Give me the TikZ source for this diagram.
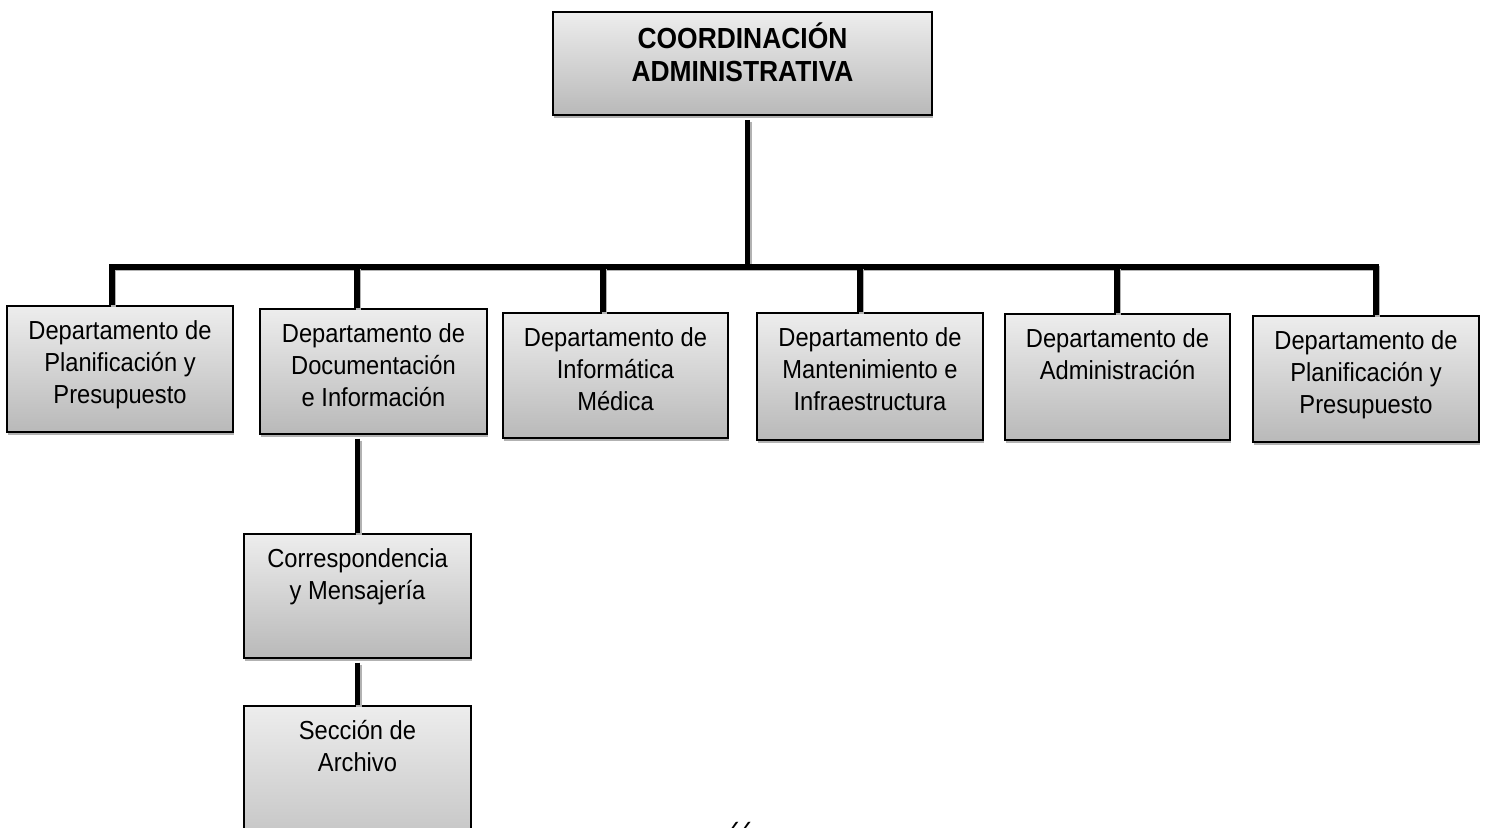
\documentclass[tikz,border=0pt]{standalone}
\usepackage{fontspec}
\setmainfont{Liberation Sans}
\newfontfamily\pagefont{Carlito}
\usetikzlibrary{shadows}
\newcommand\obox[6][]{%
  \node[box,#1,minimum width={(#5-#3)*0.5pt},minimum height={(#6-#4)*0.5pt}] (#2) at ({(#3+#5)/2},{(#4+#6)/2}) {};}
\newcommand\stx[1]{\scalebox{1}[1.1]{\begin{tabular}{@{}c@{}}#1\end{tabular}}}
\begin{document}
\begin{tikzpicture}[x=0.5pt,y=-0.5pt,
  box/.style={draw=black,line width=0.7pt,rectangle,inner sep=0pt,
    top color=gray!14,bottom color=gray!55,
    drop shadow={shadow xshift=0.4pt,shadow yshift=-1.7pt,fill=gray!60,opacity=1}},
  lbl/.style={anchor=north,inner sep=0pt,font=\fontsize{11.85}{14.5}\selectfont},
  blbl/.style={anchor=north,inner sep=0pt,font=\bfseries\fontsize{13.2}{15}\selectfont},
  conn/.style={line width=2.6pt,miter limit=10,
    preaction={draw=gray!60,line width=2.6pt,transform canvas={xshift=0.7pt,yshift=-0.9pt}}}]
\useasboundingbox (0,0) rectangle (1486,828);
\clip (0,0) rectangle (1486,828);

% boxes
\obox{top}{553}{12}{932}{115}
\obox{b1}{7}{306}{233}{432}
\obox{b2}{260}{309}{487}{434}
\obox{b3}{503}{313}{728}{438}
\obox{b4}{757}{313}{983}{440}
\obox{b5}{1005}{314}{1230}{440}
\obox{b6}{1253}{316}{1479}{442}
\obox{corr}{244}{534}{471}{658}
\obox{arch}{244}{706}{471}{880}

% texts
\node[blbl] (ttop) at ([yshift=-5.5pt]top.north) {\stx{COORDINACIÓN\\ADMINISTRATIVA}};
\node[lbl] (t1) at ([yshift=-5.8pt]b1.north) {\stx{Departamento de\\Planificación y\\Presupuesto}};
\node[lbl] (t2) at ([yshift=-5.8pt]b2.north) {\stx{Departamento de\\Documentación\\e Información}};
\node[lbl] (t3) at ([yshift=-5.8pt]b3.north) {\stx{Departamento de\\Informática\\Médica}};
\node[lbl] (t4) at ([yshift=-5.8pt]b4.north) {\stx{Departamento de\\Mantenimiento e\\Infraestructura}};
\node[lbl] (t5) at ([yshift=-5.8pt]b5.north) {\stx{Departamento de\\Administración}};
\node[lbl] (t6) at ([yshift=-5.8pt]b6.north) {\stx{Departamento de\\Planificación y\\Presupuesto}};
\node[lbl] (tc) at ([yshift=-5.8pt]corr.north) {\stx{Correspondencia\\y Mensajería}};
\node[lbl] (ta) at ([yshift=-5.8pt]arch.north) {\stx{Sección de\\Archivo}};

% connectors
\coordinate (tv) at (747.5,120);
\coordinate (busL) at (112,267);
\coordinate (busR) at (1376,267);
\coordinate (d2) at (357,267);
\coordinate (d3) at (603,267);
\coordinate (d4) at (860,267);
\coordinate (d5) at (1117,267);
\draw[conn] (tv) -- (tv |- busL);
\draw[conn] (busL |- b1.north) -- (busL) -- (busR) -- (busR |- b6.north);
\draw[conn] (d2) -- (d2 |- b2.north);
\draw[conn] (d3) -- (d3 |- b3.north);
\draw[conn] (d4) -- (d4 |- b4.north);
\draw[conn] (d5) -- (d5 |- b5.north);
\draw[conn] ([yshift=-2pt]corr.north |- b2.south) -- (corr.north);
\draw[conn] ([yshift=-2pt]corr.south) -- (arch.north);

% page number (cut off at the lower edge, as in the reference)
\node[anchor=north,inner sep=0pt,font=\pagefont\fontsize{12}{14}\selectfont] (pg) at (741,822) {66};
\end{tikzpicture}
\end{document}
